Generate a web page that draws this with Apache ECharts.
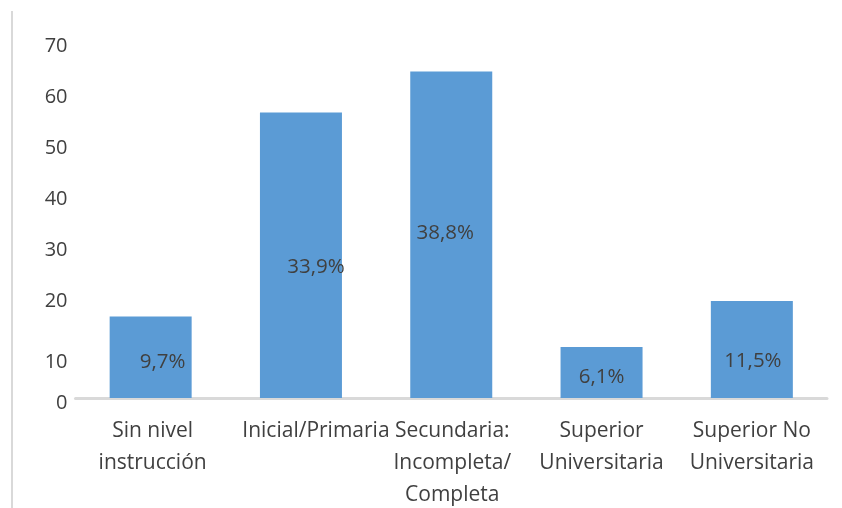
<!DOCTYPE html>
<html>
<head>
<meta charset="utf-8">
<script src="https://cdn.jsdelivr.net/npm/echarts@6/dist/echarts.min.js"></script>
<style>html,body{margin:0;padding:0;background:#fff}#c{width:842px;height:508px}</style>
</head>
<body>
<div id="c"></div>
<script>
const categories = ['Sin nivel\ninstrucción', 'Inicial/Primaria', 'Secundaria:\nIncompleta/\nCompleta', 'Superior\nUniversitaria', 'Superior No\nUniversitaria'];
const counts = [16, 56, 64, 10, 19];
const percentLabels = ['9,7%', '33,9%', '38,8%', '6,1%', '11,5%'];
const yTicks = [0, 10, 20, 30, 40, 50, 60, 70];

const labelShift = [[12, 5], [15, 12], [-6, -2], [0, 5], [1, 12]];
const catPadding = [[0, 0, 0, 4], [0, 0, 0, 30], [0, 0, 0, 2], [0, 0, 0, 0], [0, 0, 0, 0]];

const chart = echarts.init(document.getElementById('c'));
chart.setOption({
  animation: false,
  backgroundColor: '#fff',
  grid: { left: 75.5, right: 15, top: 41, bottom: 110, containLabel: false, outerBoundsMode: 'none' },
  graphic: [{
    type: 'line', shape: { x1: 12, y1: 11, x2: 12, y2: 508 },
    style: { stroke: '#d9d9d9', lineWidth: 2 }
  }],
  xAxis: {
    type: 'category',
    data: categories.map((c, i) => ({ value: c, textStyle: { padding: catPadding[i] } })),
    axisLine: { show: true, lineStyle: { color: '#d9d9d9', width: 3 } },
    axisTick: { show: false },
    axisLabel: {
      interval: 0, margin: 17, color: '#404040', hideOverlap: false,
      fontFamily: 'Open Sans', fontSize: 21, lineHeight: 32
    }
  },
  yAxis: {
    type: 'value', min: yTicks[0], max: yTicks[yTicks.length - 1], interval: 10,
    axisLine: { show: false }, axisTick: { show: false }, splitLine: { show: false },
    axisLabel: {
      margin: 8, color: '#404040', fontFamily: 'Open Sans', fontSize: 20,
      formatter: v => v === 10 ? '{b|' + v + '}' : '{a|' + v + '}',
      rich: {
        a: { fontFamily: 'Open Sans', fontSize: 20, color: '#404040', padding: [10, 0, 0, 0] },
        b: { fontFamily: 'Open Sans', fontSize: 20, color: '#404040', padding: [30, 0, 0, 0] }
      }
    }
  },
  series: [{
    type: 'bar',
    barWidth: 82,
    itemStyle: { color: '#5b9bd5' },
    data: counts.map((v, i) => ({
      value: v,
      label: {
        show: true, position: 'inside', offset: labelShift[i],
        formatter: percentLabels[i],
        color: '#404040', fontFamily: 'Open Sans', fontSize: 20.5
      }
    }))
  }]
});
</script>
</body>
</html>
